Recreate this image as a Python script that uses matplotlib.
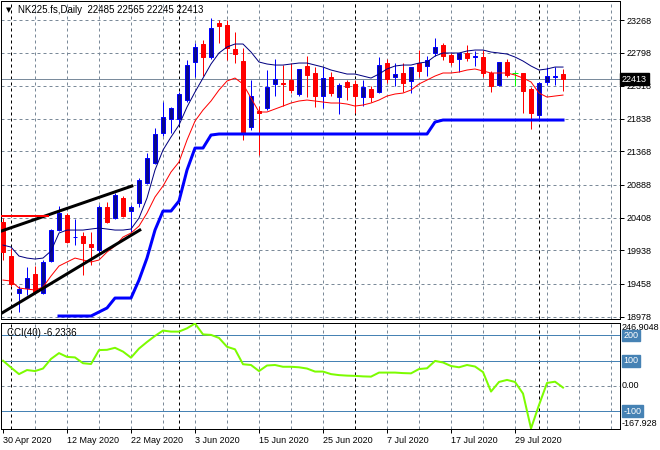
import matplotlib
matplotlib.use('Agg')
import matplotlib.pyplot as plt
import matplotlib.transforms as mtransforms
import numpy as np
import pandas as pd

plt.rcParams['font.family'] = ['Liberation Sans', 'DejaVu Sans']

# daily bars NK225.fs, 30 Apr 2020 .. 6 Aug 2020
dates = pd.bdate_range('2020-04-30', periods=71)

opens = [20351, 19855, 19316, 19393, 19595, 19316, 19783, 20231, 20448, 20130,
         20145, 20029, 19942, 20568, 20405, 20694, 20510, 20626, 20915, 21205,
         21630, 21836, 21832, 22111, 22665, 22917, 22737, 23229, 23196, 22844,
         22675, 21716, 21950, 22000, 22338, 22361, 22400, 22198, 22603, 22506,
         22169, 22448, 22159, 22376, 22343, 22159, 22266, 22231, 22642, 22439,
         22506, 22390, 22642, 22603, 22786, 22907, 22762, 22700, 22786, 22740,
         22729, 22497, 22328, 22656, 22506, 22497, 22266, 21894, 22376, 22450,
         22485]
highs = [20400, 19966, 19421, 19701, 19711, 19797, 20250, 20578, 20477, 20390,
         20207, 20207, 20593, 20641, 20766, 20718, 20593, 20983, 21345, 21702,
         22087, 22014, 22231, 22690, 22931, 22979, 23292, 23268, 23268, 23099,
         22859, 22400, 22025, 22545, 22700, 22617, 22651, 22560, 22747, 22584,
         22593, 22520, 22361, 22400, 22400, 22400, 22314, 22729, 22700, 22642,
         22642, 22584, 22834, 22747, 23003, 22931, 22786, 22790, 22907, 22824,
         22834, 22535, 22660, 22700, 22520, 22500, 22304, 22376, 22584, 22584,
         22565]
lows = [19800, 19422, 19050, 19292, 19320, 19300, 19770, 20215, 20040, 20014,
        19581, 19725, 19870, 20333, 20390, 20420, 20207, 20564, 20900, 21186,
        21591, 21638, 21750, 22087, 22448, 22458, 22700, 22931, 22690, 22651,
        21533, 21677, 21316, 21967, 22169, 22024, 22208, 22169, 22159, 22014,
        21991, 22169, 21904, 22111, 21928, 22024, 22087, 22208, 22353, 22314,
        22231, 22217, 22448, 22458, 22747, 22690, 22617, 22520, 22680, 22607,
        22448, 22231, 22314, 22448, 22314, 21928, 21688, 21832, 22328, 22328,
        22245]
closes = [19918, 19451, 19378, 19537, 19339, 19773, 20231, 20477, 20062, 20135,
          20039, 19990, 20564, 20351, 20740, 20438, 20568, 20954, 21268, 21620,
          21861, 21991, 22198, 22617, 22873, 22729, 23148, 23186, 22859, 22772,
          21630, 22169, 21920, 22304, 22415, 22338, 22256, 22555, 22473, 22169,
          22425, 22217, 22328, 22304, 22169, 22295, 22159, 22617, 22410, 22487,
          22361, 22584, 22535, 22690, 22882, 22747, 22665, 22786, 22714, 22747,
          22506, 22314, 22656, 22473, 22506, 22246, 21919, 22361, 22458, 22460,
          22413]

# navy moving average
ma_fast = [20014, 19985, 19855, 19826, 19812, 19826, 19928, 20188, 20231, 20231,
           20231, 20246, 20260, 20246, 20231, 20231, 20246, 20405, 20694, 21099,
           21388, 21576, 21750, 22010, 22227, 22429, 22632, 22791, 22878, 22921,
           22921, 22805, 22661, 22632, 22617, 22617, 22632, 22646, 22646, 22617,
           22588, 22545, 22516, 22487, 22487, 22458, 22429, 22487, 22560, 22603,
           22617, 22617, 22646, 22661, 22747, 22791, 22791, 22791, 22820, 22834,
           22834, 22805, 22791, 22776, 22733, 22675, 22603, 22545, 22560, 22588,
           22588]
# red moving average
ma_slow = [19508, 19494, 19393, 19378, 19364, 19407, 19566, 19711, 19769, 19826,
           19798, 19769, 19798, 19913, 20000, 20130, 20188, 20289, 20477, 20709,
           20868, 21070, 21215, 21533, 21807, 21966, 22097, 22256, 22386, 22429,
           22343, 22140, 21938, 21938, 21981, 22024, 22068, 22097, 22111, 22097,
           22082, 22068, 22068, 22053, 22024, 22039, 22068, 22111, 22169, 22198,
           22212, 22256, 22343, 22400, 22458, 22502, 22502, 22516, 22545, 22560,
           22531, 22502, 22502, 22502, 22473, 22429, 22372, 22212, 22154, 22169,
           22183]
# thick blue stop line, starts at bar 7
stop_start = 7
stop_line = [18988, 18988, 18988, 18988, 18988, 19046, 19104, 19248, 19248, 19248,
             19508, 19827, 20231, 20506, 20506, 20651, 21099, 21417, 21417, 21605,
             21620, 21620, 21620, 21620, 21620, 21620, 21620, 21620, 21620, 21620,
             21620, 21620, 21620, 21620, 21620, 21620, 21620, 21620, 21620, 21620,
             21620, 21620, 21620, 21620, 21620, 21620, 21620, 21793, 21822, 21822,
             21822, 21822, 21822, 21822, 21822, 21822, 21822, 21822, 21822, 21822,
             21822, 21822, 21822, 21822]

cci = [100, 73, 47, 63, 59, 69, 107, 130, 115, 113,
       90, 87, 142, 143, 151, 136, 112, 148, 174, 198,
       219, 215, 215, 228, 246.9048, 204, 202, 190, 155, 145,
       86, 83, 59, 81, 83, 76, 76, 74, 69, 57,
       57, 47, 43, 41, 40, 38, 37, 53, 53, 53,
       51, 50, 67, 70, 99, 93, 79, 74, 83, 77,
       55, -22, 16, 24, 16, -30, -167.928, -75, 12, 17,
       -6.2336]

price_ticks = [23268, 22798, 22318, 21838, 21368, 20888, 20408, 19938, 19458, 18978]
trend_upper_x, trend_upper_y = [-0.2, 16.1], [20217, 20867]
trend_lower_x, trend_lower_y = [-0.2, 17.1], [19027, 20231]
resist_x, resist_y = [-0.3, 5.6], [20434, 20434]
last_price = 22413
cci_levels = [200, 100, -100]

px = 0.72  # one pixel in points at dpi 100
n = len(closes)
x = np.arange(n)
xlim = (-0.25, 77.06)
grid_col = '#7b8a99'

fig = plt.figure(figsize=(6.6, 4.5), dpi=100)
ax = fig.add_axes([1 / 660, 1 - 319 / 450, 618.5 / 660, 318 / 450])
ax2 = fig.add_axes([1 / 660, 1 - 429 / 450, 618.5 / 660, 106.5 / 450])

month_starts = [i for i in range(1, n) if dates[i].month != dates[i - 1].month]

for a in (ax, ax2):
    a.set_xlim(*xlim)
    for gx in range(4, 78, 4):
        a.axvline(gx, color=grid_col, lw=px, ls=(0, (3, 3)), zorder=0)
    for ms in month_starts:
        a.axvline(ms, color='black', lw=px, ls=(0, (3, 3)), zorder=1)
    for s in a.spines.values():
        s.set_linewidth(px)

# main panel
ax.set_ylim(18945, 23543)
for p in price_ticks:
    ax.axhline(p, color=grid_col, lw=px, ls=(0, (3, 3)), zorder=0)
ax.axhline(last_price, color='#7a8b9c', lw=px, zorder=1)

# candles
for i in range(n):
    o, h, l, c = opens[i], highs[i], lows[i], closes[i]
    if c > o:
        ax.vlines(i, l, h, color='#0000ff', lw=px, zorder=3)
        ax.bar(i, c - o, bottom=o, width=0.62, color='#0a0a8a',
               edgecolor='#0000ff', lw=px, zorder=4)
    elif c < o:
        ax.vlines(i, l, h, color='#ff0000', lw=px, zorder=3)
        ax.bar(i, o - c, bottom=c, width=0.62, color='#ff0000',
               edgecolor='#ff0000', lw=px, zorder=4)
    else:
        ax.vlines(i, l, h, color='#00ff00', lw=px, zorder=3)
        ax.hlines(o, i - 0.35, i + 0.35, color='#00ff00', lw=px, zorder=4)

ax.plot(x, ma_fast, color='#000080', lw=px, zorder=5)
ax.plot(x, ma_slow, color='#ff0000', lw=px, zorder=5)
ax.plot(x[stop_start:], stop_line, color='#0000ff', lw=3 * px, zorder=5)
ax.plot(trend_upper_x, trend_upper_y, color='black', lw=3 * px, zorder=6)
ax.plot(trend_lower_x, trend_lower_y, color='black', lw=3 * px, zorder=6)
ax.plot(resist_x, resist_y, color='#ff0000', lw=2 * px, zorder=6)

ax.yaxis.tick_right()
ax.set_yticks(price_ticks)
ax.set_yticklabels([str(p) for p in price_ticks])
ax.tick_params(axis='y', length=3, width=px, pad=2, labelsize=6.5)
ax.set_xticks([])

ytr = mtransforms.blended_transform_factory(ax.transAxes, ax.transData)
ax.text(1.004, last_price, str(last_price), transform=ytr, fontsize=6.5,
        color='white', va='center', ha='left',
        bbox=dict(facecolor='black', edgecolor='black', pad=1.2))

ax.text(0.008, 0.972, '\u25bc', transform=ax.transAxes, fontsize=5,
        va='center', ha='left', family='DejaVu Sans')
ax.text(0.027, 0.972, 'NK225.fs,Daily  %d %d %d %d' % (opens[-1], highs[-1], lows[-1], closes[-1]),
        transform=ax.transAxes, fontsize=7, va='center', ha='left')

# CCI panel
ax2.set_ylim(-170, 251)
ax2.axhline(0, color=grid_col, lw=px, ls=(0, (3, 3)), zorder=0)
for lv in cci_levels:
    ax2.axhline(lv, color='#4682b4', lw=px, zorder=1)
ax2.plot(x, cci, color='#7cfc00', lw=2 * px, zorder=5)

ax2.set_yticks([])
tick_idx = list(range(0, n, 8))
ax2.set_xticks(tick_idx)
ax2.set_xticklabels([f'{dates[i].day} {dates[i]:%b %Y}' for i in tick_idx],
                    ha='left')
ax2.tick_params(axis='x', length=3, width=px, pad=2, labelsize=6.5)

ytr2 = mtransforms.blended_transform_factory(ax2.transAxes, ax2.transData)
ax2.text(1.004, 1.0, '%.4f' % max(cci), transform=ax2.transAxes, fontsize=6.5,
         va='top', ha='left')
ax2.text(1.004, min(cci), '%.3f' % min(cci), transform=ytr2, fontsize=6.5,
         va='bottom', ha='left')
ax2.text(1.004, 0, '0.00', transform=ytr2, fontsize=6.5, va='center', ha='left')
for lv in cci_levels:
    ax2.text(1.006, lv, str(lv), transform=ytr2, fontsize=6.5, color='white',
             va='center', ha='left',
             bbox=dict(facecolor='#4682b4', edgecolor='#4682b4', pad=1.0))
ax2.text(0.01, 0.90, 'CCI(40) %.4f' % cci[-1], transform=ax2.transAxes,
         fontsize=7, va='center', ha='left')

fig.savefig('out.png', dpi=100, facecolor='white')
